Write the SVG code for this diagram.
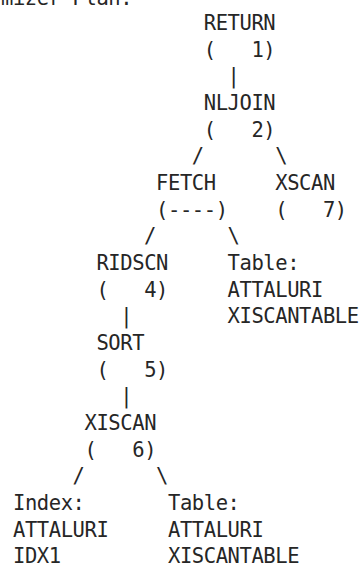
<svg xmlns="http://www.w3.org/2000/svg" width="362" height="565" viewBox="0 0 362 565">
<style>
text{font-family:"DejaVu Sans Mono","Liberation Mono",monospace;font-size:20.5px;letter-spacing:-0.42px;fill:#262626;white-space:pre}
</style>
<rect width="362" height="565" fill="#ffffff"/>
<text x="1" y="4.5">mizer Plan:</text>
<g id="connectors">
<text x="227.56" y="83.33">|</text>
<text x="191.8" y="163.33">/</text>
<text x="275.24" y="163.33">\</text>
<text x="144.12" y="243.33">/</text>
<text x="227.56" y="243.33">\</text>
<text x="120.28" y="323.33">|</text>
<text x="120.28" y="403.33">|</text>
<text x="72.6" y="483.33">/</text>
<text x="156.04" y="483.33">\</text>
</g>
<g id="return1">
<text x="203.72" y="30">RETURN</text>
<text x="203.72" y="56.67" xml:space="preserve">(   1)</text>
</g>
<g id="nljoin2">
<text x="203.72" y="110">NLJOIN</text>
<text x="203.72" y="136.67" xml:space="preserve">(   2)</text>
</g>
<g id="fetch3">
<text x="156.04" y="190">FETCH</text>
<text x="156.04" y="216.67">(----)</text>
</g>
<g id="xscan7">
<text x="275.24" y="190">XSCAN</text>
<text x="275.24" y="216.67" xml:space="preserve">(   7)</text>
</g>
<g id="table1">
<text x="227.56" y="270">Table:</text>
<text x="227.56" y="296.67">ATTALURI</text>
<text x="227.56" y="323.33">XISCANTABLE</text>
</g>
<g id="ridscn4">
<text x="96.44" y="270">RIDSCN</text>
<text x="96.44" y="296.67" xml:space="preserve">(   4)</text>
</g>
<g id="sort5">
<text x="96.44" y="350">SORT</text>
<text x="96.44" y="376.67" xml:space="preserve">(   5)</text>
</g>
<g id="xiscan6">
<text x="84.52" y="430">XISCAN</text>
<text x="84.52" y="456.67" xml:space="preserve">(   6)</text>
</g>
<g id="index1">
<text x="13" y="510">Index:</text>
<text x="13" y="536.67">ATTALURI</text>
<text x="13" y="563.33">IDX1</text>
</g>
<g id="table2">
<text x="167.96" y="510">Table:</text>
<text x="167.96" y="536.67">ATTALURI</text>
<text x="167.96" y="563.33">XISCANTABLE</text>
</g>
</svg>
